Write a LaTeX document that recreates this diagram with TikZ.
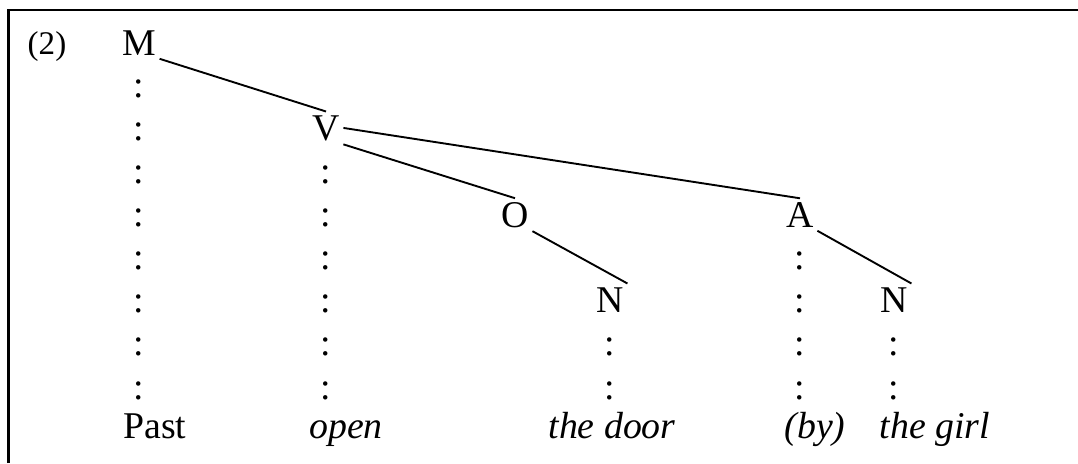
\documentclass[tikz,border=0pt]{standalone}
\usepackage{fontspec}
\setmainfont{Liberation Serif}
\tikzset{
  cat/.style={anchor=base, inner sep=1pt, font=\fontsize{12}{14}\selectfont},
  word/.style={anchor=base, inner sep=1pt, font=\fontsize{12}{14}\selectfont\itshape},
  colon/.style={anchor=base, inner sep=0pt, font=\fontsize{12}{14}\selectfont},
  branch/.style={line width=0.6pt},
}
\begin{document}
\begin{tikzpicture}[x=0.3175pt, y=-0.3175pt]
  \useasboundingbox (0,0) rectangle (1078,463);
  % 테두리 — 위쪽과 왼쪽만
  \draw[line width=0.7pt] (8.5,463) -- (8.5,10) -- (1078,10);
  % 번호
  \node[anchor=base, inner sep=0pt, font=\fontsize{10.5}{12}\selectfont] (num) at (47,54) {(2)};
  % 범주 노드
  \node[cat] (M) at (139,55) {M};
  \node[cat] (V) at (326,140) {V};
  \node[cat] (O) at (515,227) {O};
  \node[cat] (A) at (800,227) {A};
  \node[cat] (NO) at (610,312) {N};
  \node[cat] (NA) at (894,312) {N};
  % 가지
  \draw[branch] (M.south east) -- (V.north);
  \draw[branch] (V.east) -- (A.north);
  \draw[branch] (V.south east) -- (O.north);
  \draw[branch] (O.south east) -- (NO.north east);
  \draw[branch] (A.south east) -- (NA.north east);
  % 점선 — 아래에서 위로 쌓은 쌍점
  \foreach \c/\x/\n in {m/139/7, v/326/5, a/800/3, no/610/1, na/894/1}{
    \foreach \k in {0,...,\n}{
      \node[colon] (\c-\k) at (\x,{399-43.14*\k}) {:};
    }
  }
  % 단어
  \node[cat] (past) at (155,438) {Past};
  \node[word] (open) at (346,438) {open};
  \node[word] (door) at (612,438) {the door};
  \node[word] (by) at (815,438) {(by)};
  \node[word] (girl) at (935,438) {the girl};
\end{tikzpicture}
\end{document}
